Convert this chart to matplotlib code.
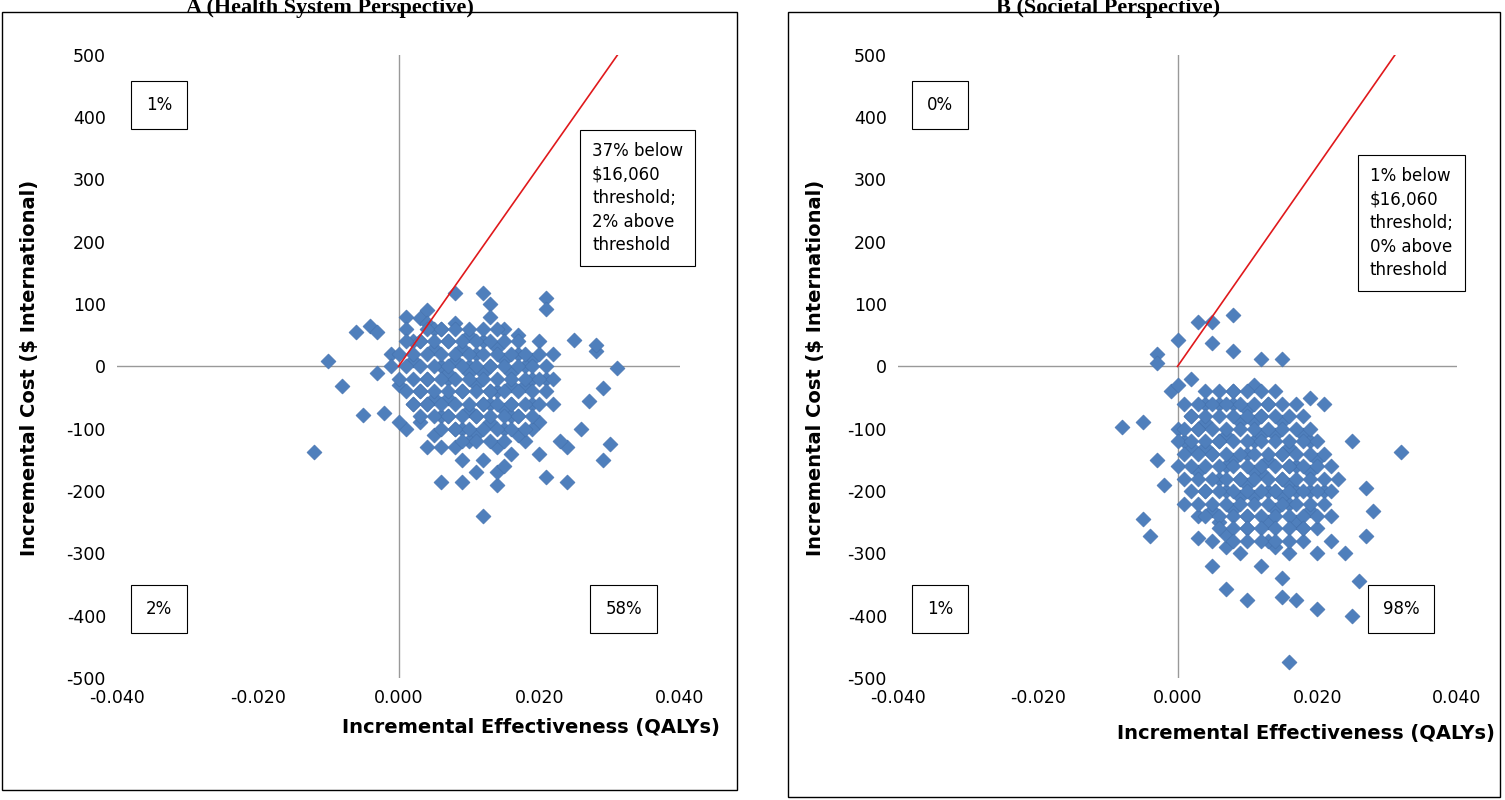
import matplotlib.pyplot as plt
from matplotlib.patches import Rectangle

plt.rcParams['axes.unicode_minus'] = False

# Panel A (health system) - incremental QALYs and cost
a_x = [-0.012, -0.010, -0.008, -0.006, -0.005, -0.004, -0.003, -0.002, 0.001, 0.003,
       0.004, 0.008, 0.012, 0.013, 0.021, 0.021, 0.031, 0.028, 0.028, 0.029,
       0.030, 0.029, 0.024, 0.021, 0.012, 0.014, 0.006, 0.009, 0.024, 0.026,
       0.027, 0.025, -0.003, -0.001, 0.000, 0.001, 0.002, 0.002, 0.003, 0.003,
       0.004, 0.004, 0.005, 0.005, 0.005, 0.006, 0.006, 0.006, 0.007, 0.007,
       0.007, 0.008, 0.008, 0.008, 0.009, 0.009, 0.009, 0.010, 0.010, 0.010,
       0.011, 0.011, 0.011, 0.012, 0.012, 0.012, 0.013, 0.013, 0.013, 0.014,
       0.014, 0.014, 0.015, 0.015, 0.015, 0.016, 0.016, 0.016, 0.017, 0.017,
       0.017, 0.018, 0.018, 0.019, 0.019, 0.020, 0.020, 0.021, 0.022, 0.023,
       0.001, 0.004, 0.007, 0.010, 0.013, 0.016, 0.019, 0.002, 0.005, 0.008,
       0.011, 0.014, 0.017, 0.020, 0.003, 0.006, 0.009, 0.012, 0.015, 0.018,
       0.010, 0.013, 0.016, 0.007, 0.004, 0.022, 0.000, 0.011, 0.019, 0.015]
a_y = [-138, 8, -32, 55, -78, 65, 55, -75, 80, 78,
       90, 118, 118, 100, 110, 92, -3, 25, 35, -35,
       -125, -150, -185, -178, -240, -190, -185, -185, -130, -100,
       -55, 42, -10, 20, -30, 60, -60, 10, -90, 40,
       -20, 70, -110, 30, -50, 0, 60, -130, -80, 40,
       -20, 10, -100, 70, -40, 30, -150, -70, 50, 0,
       -110, 20, -30, -60, 40, -150, 0, -90, 80, -40,
       30, -170, -100, 10, 60, -60, -10, -140, 20, -80,
       50, -30, -120, -60, 10, -90, 40, -20, -60, -120,
       -100, -60, -50, -10, -40, -30, -100, 40, 60, -130,
       -80, -130, -110, -140, -40, -80, -100, -10, -70, 0,
       -120, -60, -80, -10, -130, 20, -90, -170, -20, -160]

# dense core of panel A, row by row (cost level, QALY values in that row)
a_core_y = [60, 40, 20, 0, -20, -40, -60, -80, -100, -120]
a_core_x = [
    [0.004, 0.006, 0.008, 0.010, 0.012, 0.014],
    [0.001, 0.003, 0.005, 0.007, 0.009, 0.011, 0.013, 0.015, 0.017],
    [0.000, 0.002, 0.004, 0.006, 0.008, 0.010, 0.012, 0.014, 0.016, 0.018, 0.020],
    [-0.001, 0.001, 0.003, 0.005, 0.007, 0.009, 0.011, 0.013, 0.015, 0.017, 0.019, 0.021],
    [0.000, 0.002, 0.004, 0.006, 0.008, 0.010, 0.012, 0.014, 0.016, 0.018, 0.020, 0.022],
    [0.001, 0.003, 0.005, 0.007, 0.009, 0.011, 0.013, 0.015, 0.017, 0.019, 0.021],
    [0.002, 0.004, 0.006, 0.008, 0.010, 0.012, 0.014, 0.016, 0.018, 0.020],
    [0.003, 0.005, 0.007, 0.009, 0.011, 0.013, 0.015, 0.017, 0.019],
    [0.006, 0.008, 0.010, 0.012, 0.014, 0.016, 0.018],
    [0.009, 0.011, 0.013, 0.015],
]

# Panel B (societal)
b_x = [-0.008, -0.005, -0.005, -0.004, -0.003, -0.003, -0.001, 0.000, 0.003, 0.005,
       0.008, 0.005, 0.008, 0.012, 0.015, 0.032, 0.028, 0.027, 0.025, 0.016,
       0.020, 0.010, 0.007, 0.005, 0.003, 0.015, 0.017, 0.026, 0.024, 0.027,
       0.025, 0.019, 0.021, -0.003, -0.002, 0.000, 0.001, 0.001, 0.002, 0.002,
       0.003, 0.003, 0.004, 0.004, 0.005, 0.005, 0.006, 0.006, 0.006, 0.007,
       0.007, 0.007, 0.008, 0.008, 0.008, 0.009, 0.009, 0.009, 0.010, 0.010,
       0.010, 0.011, 0.011, 0.011, 0.012, 0.012, 0.012, 0.013, 0.013, 0.013,
       0.014, 0.014, 0.014, 0.015, 0.015, 0.015, 0.016, 0.016, 0.016, 0.017,
       0.017, 0.018, 0.018, 0.019, 0.019, 0.020, 0.020, 0.021, 0.022, 0.023,
       0.001, 0.004, 0.007, 0.010, 0.013, 0.016, 0.019, 0.002, 0.005, 0.008,
       0.011, 0.014, 0.017, 0.020, 0.003, 0.006, 0.009, 0.012, 0.015, 0.018,
       0.010, 0.013, 0.016, 0.007, 0.004, 0.022, 0.000, 0.011, 0.019, 0.015]
b_y = [-98, -90, -245, -272, 20, 5, -40, 42, 72, 72,
       82, 37, 25, 12, 12, -137, -232, -272, -400, -475,
       -390, -375, -357, -320, -275, -370, -375, -345, -300, -195,
       -120, -50, -60, -150, -190, -100, -60, -220, -130, -20,
       -170, -240, -90, -200, -140, -280, -60, -180, -250, -110,
       -200, -290, -40, -150, -230, -90, -180, -300, -70, -140,
       -260, -30, -120, -210, -80, -170, -320, -60, -150, -250,
       -110, -200, -290, -90, -180, -340, -130, -220, -300, -160,
       -250, -110, -280, -170, -230, -150, -260, -200, -240, -180,
       -120, -130, -160, -190, -200, -190, -200, -80, -230, -60,
       -170, -230, -200, -300, -100, -120, -210, -110, -140, -260,
       -240, -280, -160, -270, -60, -280, -30, -90, -120, -210]

b_core_y = [-40, -60, -80, -100, -120, -140, -160, -180, -200, -220, -240, -260, -280]
b_core_x = [
    [0.004, 0.006, 0.008, 0.010, 0.012, 0.014],
    [0.003, 0.005, 0.007, 0.009, 0.011, 0.013, 0.015, 0.017],
    [0.002, 0.004, 0.006, 0.008, 0.010, 0.012, 0.014, 0.016, 0.018],
    [0.001, 0.003, 0.005, 0.007, 0.009, 0.011, 0.013, 0.015, 0.017, 0.019],
    [0.000, 0.002, 0.004, 0.006, 0.008, 0.010, 0.012, 0.014, 0.016, 0.018, 0.020],
    [0.001, 0.003, 0.005, 0.007, 0.009, 0.011, 0.013, 0.015, 0.017, 0.019, 0.021],
    [0.000, 0.002, 0.004, 0.006, 0.008, 0.010, 0.012, 0.014, 0.016, 0.018, 0.020, 0.022],
    [0.001, 0.003, 0.005, 0.007, 0.009, 0.011, 0.013, 0.015, 0.017, 0.019, 0.021],
    [0.002, 0.004, 0.006, 0.008, 0.010, 0.012, 0.014, 0.016, 0.018, 0.020, 0.022],
    [0.003, 0.005, 0.007, 0.009, 0.011, 0.013, 0.015, 0.017, 0.019, 0.021],
    [0.004, 0.006, 0.008, 0.010, 0.012, 0.014, 0.016, 0.018, 0.020],
    [0.006, 0.008, 0.010, 0.012, 0.014, 0.016, 0.018],
    [0.008, 0.010, 0.012, 0.014, 0.016],
]

x_ticks = [-0.04, -0.02, 0.0, 0.02, 0.04]
y_ticks = list(range(-500, 501, 100))
threshold = 16060


def with_core(xs, ys, core_x, core_y):
    px, py = list(xs), list(ys)
    for yv, row in zip(core_y, core_x):
        px += row
        py += [yv] * len(row)
    return px, py


fig = plt.figure(figsize=(15.05, 8), dpi=100)
fig.patches.append(Rectangle((2 / 1505, 10 / 800), 735 / 1505, 778 / 800, transform=fig.transFigure,
                             fill=False, edgecolor='black', linewidth=1))
fig.patches.append(Rectangle((788 / 1505, 3 / 800), 712 / 1505, 785 / 800, transform=fig.transFigure,
                             fill=False, edgecolor='black', linewidth=1))

ax_x, ax_y = with_core(a_x, a_y, a_core_x, a_core_y)
bx_x, bx_y = with_core(b_x, b_y, b_core_x, b_core_y)

panels = [
    dict(x=ax_x, y=ax_y, pos=[117 / 1505, 0.1525, 563 / 1505, 0.779], title='A (Health System Perspective)',
         tx=330 / 1505, ylx=30 / 1505, xlx=720 / 1505, xly=1 - 727 / 800,
         q=['1%', '2%', '58%'], mid='37% below\n$16,060\nthreshold;\n2% above\nthreshold', midy=270),
    dict(x=bx_x, y=bx_y, pos=[898 / 1505, 0.1525, 559 / 1505, 0.779], title='B (Societal Perspective)',
         tx=1108 / 1505, ylx=815 / 1505, xlx=1495 / 1505, xly=1 - 733 / 800,
         q=['0%', '1%', '98%'], mid='1% below\n$16,060\nthreshold;\n0% above\nthreshold', midy=230),
]

box = dict(boxstyle='square,pad=0.9', facecolor='white', edgecolor='black', linewidth=0.8)
for p in panels:
    ax = fig.add_axes(p['pos'])
    ax.set_xlim(-0.04, 0.04)
    ax.set_ylim(-500, 500)
    for s in ax.spines.values():
        s.set_visible(False)
    ax.axhline(0, color='#999999', linewidth=1, zorder=1)
    ax.axvline(0, color='#999999', linewidth=1, zorder=1)
    ax.set_xticks(x_ticks)
    ax.set_xticklabels(['%.3f' % v for v in x_ticks])
    ax.set_yticks(y_ticks)
    ax.tick_params(length=0, labelsize=12.5, pad=8)
    ax.scatter(p['x'], p['y'], marker='D', s=60, color='#4f7fbc', edgecolors='#3f6ca8',
               linewidths=0.3, zorder=3)
    ax.plot([0, 500 / threshold], [0, 500], color='#e0191c', linewidth=1.2, zorder=4)
    ax.text(-0.034, 420, p['q'][0], fontsize=12, ha='center', va='center', bbox=box)
    ax.text(-0.034, -390, p['q'][1], fontsize=12, ha='center', va='center', bbox=box)
    ax.text(0.032, -390, p['q'][2], fontsize=12, ha='center', va='center', bbox=box)
    ax.text(0.0275, p['midy'], p['mid'], fontsize=12, ha='left', va='center', linespacing=1.4,
            bbox=dict(boxstyle='square,pad=0.7', facecolor='white', edgecolor='black', linewidth=0.8))
    fig.text(p['tx'], 1.003, p['title'], fontsize=16, fontweight='bold', family='Liberation Serif',
             ha='center', va='top')
    fig.text(p['ylx'], 0.54, 'Incremental Cost ($ International)', fontsize=14, fontweight='bold',
             rotation=90, ha='center', va='center')
    fig.text(p['xlx'], p['xly'], 'Incremental Effectiveness (QALYs)', fontsize=14, fontweight='bold',
             ha='right', va='center')

fig.savefig('out.png', dpi=100)
